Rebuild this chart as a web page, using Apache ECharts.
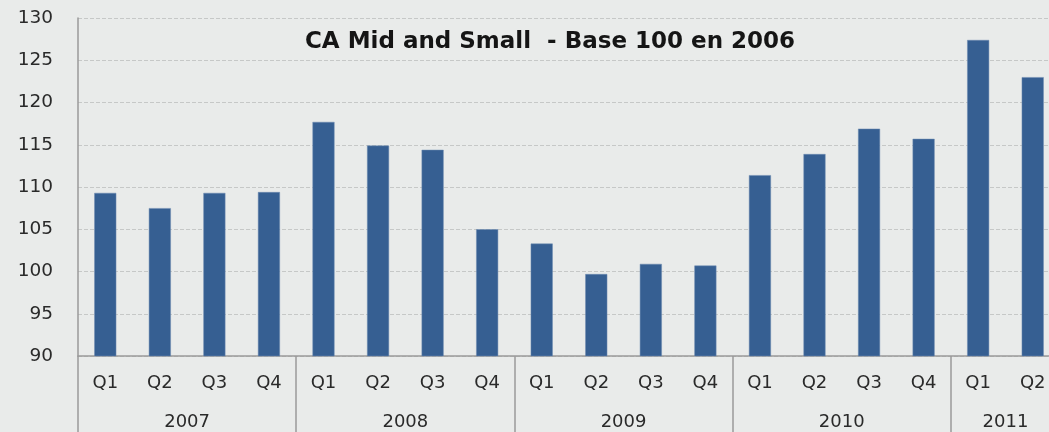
<!DOCTYPE html>
<html>
<head>
<meta charset="utf-8">
<script src="https://cdn.jsdelivr.net/npm/echarts@6/dist/echarts.min.js"></script>
<style>
  html, body { margin: 0; padding: 0; background: #e9ebea; }
  #main { width: 1049px; height: 432px; }
</style>
</head>
<body>
<div id="main"></div>
<script>
var chartDom = document.getElementById('main');
var myChart = echarts.init(chartDom);

var years = ['2007', '2008', '2009', '2010', '2011'];
var quartersPerYear = [4, 4, 4, 4, 2];
var quarters = ['Q1', 'Q2', 'Q3', 'Q4', 'Q1', 'Q2', 'Q3', 'Q4', 'Q1', 'Q2', 'Q3', 'Q4',
                'Q1', 'Q2', 'Q3', 'Q4', 'Q1', 'Q2'];
var values = [109.3, 107.5, 109.3, 109.4, 117.7, 114.9, 114.4, 105.0, 103.3, 99.7, 100.9, 100.7,
              111.4, 113.9, 116.9, 115.7, 127.4, 123.0];

// group boundaries (index of first quarter of each year) and half-step year label positions
var groupStart = [];
var yearPos = {};
var acc = 0;
years.forEach(function (y, i) {
  groupStart.push(acc);
  yearPos[acc * 2 + quartersPerYear[i]] = y;
  acc += quartersPerYear[i];
});
var halfPoints = [];
for (var k = 0; k <= quarters.length * 2; k++) {
  halfPoints.push(yearPos[k] || '');
}

var font = '"DejaVu Sans", "Open Sans", sans-serif';

var option = {
  backgroundColor: '#e9ebea',
  animation: false,
  title: {
    text: 'CA Mid and Small  - Base 100 en 2006',
    left: 545,
    textAlign: 'center',
    top: 26,
    textStyle: { fontFamily: font, fontSize: 23, fontWeight: 'bold', color: '#151515' }
  },
  grid: { left: 78, top: 18, width: 982, height: 338, outerBoundsMode: 'none', containLabel: false },
  xAxis: [
    {
      type: 'category',
      data: quarters,
      boundaryGap: true,
      axisLine: { show: true, lineStyle: { color: '#9a9a9a', width: 1.5 } },
      axisTick: {
        show: true,
        length: 80,
        interval: function (index) { return groupStart.indexOf(index) >= 0; },
        lineStyle: { color: '#9a9a9a', width: 1.5 }
      },
      axisLabel: { interval: 0, margin: 18, fontFamily: font, fontSize: 18, color: '#2a2a2a' },
      splitLine: { show: false }
    },
    {
      type: 'category',
      position: 'bottom',
      offset: 40,
      data: halfPoints,
      boundaryGap: false,
      axisLine: { show: false },
      axisTick: { show: false },
      axisLabel: {
        interval: 0,
        margin: 17,
        fontFamily: font,
        fontSize: 18,
        color: '#2a2a2a'
      },
      splitLine: { show: false }
    }
  ],
  yAxis: {
    type: 'value',
    min: 90,
    max: 130,
    interval: 5,
    axisLine: { show: true, lineStyle: { color: '#9a9a9a', width: 1.5 } },
    axisTick: { show: false },
    axisLabel: { margin: 25, fontFamily: font, fontSize: 18.5, color: '#2a2a2a' },
    splitLine: { show: true, lineStyle: { color: '#c6c8c7', type: 'dashed', width: 1 } }
  },
  series: [
    {
      type: 'bar',
      xAxisIndex: 0,
      data: values,
      barWidth: 22,
      itemStyle: { color: '#365f92', borderColor: '#6d8bb0', borderWidth: 0.5 }
    }
  ]
};

option && myChart.setOption(option);
</script>
</body>
</html>
